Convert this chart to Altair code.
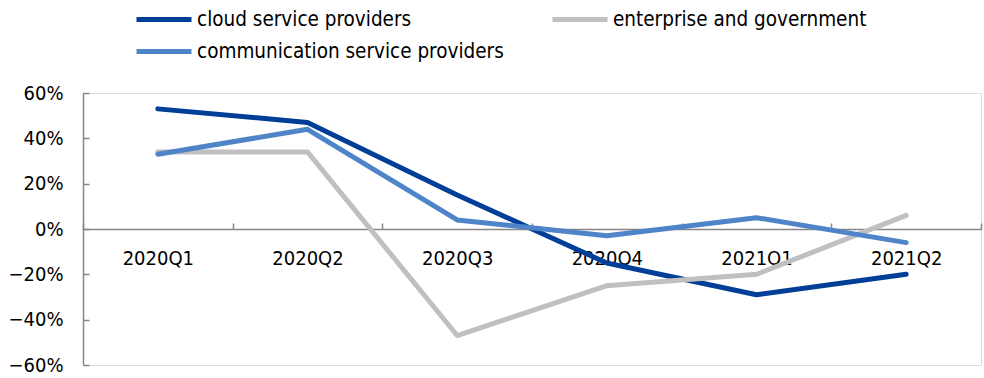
import altair as alt
import pandas as pd

quarters = ["2020Q1", "2020Q2", "2020Q3", "2020Q4", "2021Q1", "2021Q2"]
series_names = ["cloud service providers", "enterprise and government", "communication service providers"]
cloud = [0.53, 0.47, 0.15, -0.15, -0.29, -0.20]
enterprise = [0.34, 0.34, -0.47, -0.25, -0.20, 0.06]
communication = [0.33, 0.44, 0.04, -0.03, 0.05, -0.06]
colors = ["#003E98", "#C0C0C0", "#4F84C8"]
y_ticks = [-0.6, -0.4, -0.2, 0.0, 0.2, 0.4, 0.6]

rows = []
for name, vals in zip(series_names, [cloud, enterprise, communication]):
    for q, v in zip(quarters, vals):
        rows.append({"quarter": q, "series": name, "value": v})
df = pd.DataFrame(rows)

# legend is laid out column-major, so list the entries column by column
legend_order = [series_names[0], series_names[2], series_names[1]]
legend_colors = [colors[0], colors[2], colors[1]]

FONT = "DejaVu Sans Condensed, Liberation Sans, sans-serif"
W, H = 898, 272

chart = alt.Chart(df).mark_line(strokeWidth=5, strokeJoin="round", strokeCap="round").encode(
    x=alt.X("quarter:N", sort=quarters,
            scale=alt.Scale(type="band", paddingInner=0, paddingOuter=0),
            axis=alt.Axis(title=None, orient="top", offset=-H / 2, tickBand="extent",
                          tickSize=6, labelPadding=-35, labelBaseline="middle",
                          labelAngle=0, domainColor="#868686", tickColor="#868686",
                          domainWidth=1.5, tickWidth=1.5, labelFontSize=20, labelFont=FONT,
                          labelColor="#000000", grid=False)),
    y=alt.Y("value:Q", scale=alt.Scale(domain=[-0.6, 0.6], nice=False, zero=False),
            axis=alt.Axis(title=None, orient="right", offset=-W, values=y_ticks, format=".0%",
                          tickSize=6, labelPadding=-26, labelAlign="right",
                          domainColor="#868686", tickColor="#868686", domainWidth=1.5,
                          tickWidth=1.5, labelFontSize=20, labelFont=FONT,
                          labelColor="#000000", grid=False)),
    color=alt.Color("series:N", sort=legend_order,
                    scale=alt.Scale(domain=legend_order, range=legend_colors),
                    legend=alt.Legend(title=None, orient="none", legendX=51, legendY=-87,
                                      columns=2, columnPadding=38, rowPadding=8,
                                      symbolType="M-1,0H4", symbolSize=484,
                                      symbolStrokeWidth=5, labelOffset=36,
                                      labelFontSize=20.5, labelFont=FONT, labelColor="#000000",
                                      padding=0, labelLimit=0)),
).properties(
    width=W, height=H,
    autosize=alt.AutoSizeParams(type="none"),
    padding={"left": 83, "top": 93, "right": 3, "bottom": 13},
).configure_view(stroke=None).configure(background="white")

chart.save("out.html", embed_options={"renderer": "svg", "actions": False})
